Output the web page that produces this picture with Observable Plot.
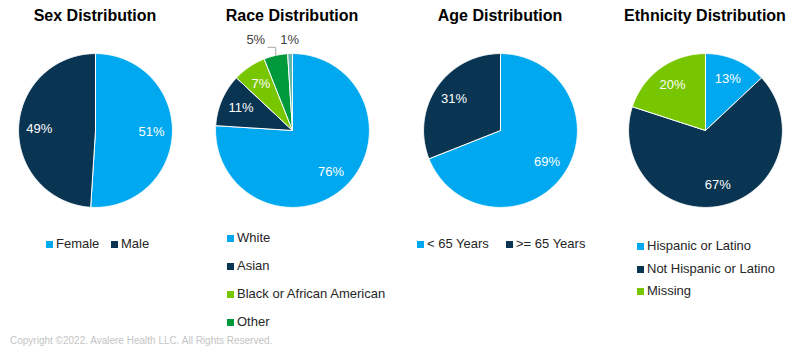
<!DOCTYPE html>
<html><head><meta charset="utf-8">
<script src="https://cdn.jsdelivr.net/npm/d3@7"></script>
<script src="https://cdn.jsdelivr.net/npm/@observablehq/plot@0.6"></script>
<style>
body{margin:0;background:#fff;font-family:"Liberation Sans",Arial,sans-serif;}
#root{position:relative;width:802px;height:360px;overflow:hidden;background:#fff;}
.title{position:absolute;top:7px;width:200px;text-align:center;font-weight:bold;font-size:16px;line-height:18px;color:#000;}
.pie{position:absolute;top:20px;}
.leg{position:absolute;font-size:13px;line-height:16px;color:#262626;white-space:nowrap;display:flex;align-items:center;}
.sw{display:inline-block;width:7px;height:7px;margin-right:3px;}
.copy{position:absolute;left:10px;top:335px;font-size:10px;color:#c4c4c4;white-space:nowrap;}
</style></head><body><div id="root"></div>
<script>
// ---- data ----
const titles = ["Sex Distribution", "Race Distribution", "Age Distribution", "Ethnicity Distribution"];

const sexCategories = ["Female", "Male"];
const sexValues = [51, 49];

const raceCategories = ["White", "Asian", "Black or African American", "Other", "Unreported"];
const raceValues = [76, 11, 7, 5, 1];
const raceLegend = ["White", "Asian", "Black or African American", "Other"];

const ageCategories = ["< 65 Years", ">= 65 Years"];
const ageValues = [69, 31];

const ethCategories = ["Hispanic or Latino", "Not Hispanic or Latino", "Missing"];
const ethValues = [13, 67, 20];

const copyright = "Copyright \u00a92022. Avalere Health LLC. All Rights Reserved.";

// ---- styles ----
const BLUE = "#00a8ef", NAVY = "#0a3552", GREEN = "#78c600", DGREEN = "#00993c", TEAL = "#62b5ab";
const root = document.getElementById("root");

function makePie(cats, vals, colors, cx) {
  const arcs = d3.pie().sort(null).value(d => d)(vals);
  const pts = [];
  arcs.forEach((a, i) => {
    const n = Math.max(2, Math.ceil((a.endAngle - a.startAngle) / 0.01));
    pts.push({cat: cats[i], x: 0, y: 0});
    for (let k = 0; k <= n; k++) {
      const t = a.startAngle + (a.endAngle - a.startAngle) * k / n;
      pts.push({cat: cats[i], x: Math.sin(t), y: Math.cos(t)});
    }
    pts.push({cat: cats[i], x: 0, y: 0});
  });
  const inside = [], outside = [], leaders = [];
  arcs.forEach((a, i) => {
    const m = (a.startAngle + a.endAngle) / 2;
    if (vals[i] >= 6) inside.push({x: Math.sin(m) * 0.73, y: Math.cos(m) * 0.73, text: vals[i] + "%"});
    else outside.push({i, m, text: vals[i] + "%"});
  });
  const outLabels = outside.map((o, j) => {
    const shifted = j < outside.length - 1;
    const lx = Math.sin(o.m) * 1.18 - (shifted ? 0.22 : 0);
    const ly = Math.cos(o.m) * 1.18 + (shifted ? 0.03 : 0);
    if (shifted) {
      const ex = Math.sin(o.m), ey = Math.cos(o.m);
      leaders.push({id: o.i, x: ex, y: ey});
      leaders.push({id: o.i, x: ex, y: ly - 0.1});
      leaders.push({id: o.i, x: lx + 0.16, y: ly - 0.1});
    }
    return {x: lx, y: ly, text: o.text};
  });
  const svg = Plot.plot({
    width: 180, height: 200, margin: 0,
    x: {domain: [-1.17, 1.17], axis: null},
    y: {domain: [-1.17, 1.43], axis: null},
    color: {domain: cats, range: colors},
    style: {fontFamily: "Liberation Sans, Arial, sans-serif", fontSize: "13px", background: "transparent", overflow: "visible"},
    marks: [
      Plot.line(pts, {x: "x", y: "y", z: "cat", fill: "cat", stroke: "white", strokeWidth: 1, strokeLinejoin: "round"}),
      Plot.line(leaders, {x: "x", y: "y", z: "id", stroke: "#a6a6a6", strokeWidth: 1}),
      Plot.text(inside, {x: "x", y: "y", text: "text", fill: "white", fontSize: 13}),
      Plot.text(outLabels, {x: "x", y: "y", text: "text", fill: "#404040", fontSize: 13})
    ]
  });
  svg.classList.add("pie");
  svg.style.left = (cx - 90) + "px";
  root.appendChild(svg);
}

function title(txt, cx) {
  const d = document.createElement("div");
  d.className = "title"; d.textContent = txt; d.style.left = (cx - 100) + "px";
  root.appendChild(d);
}
function legend(items, colors, positions) {
  items.forEach((t, i) => {
    const d = document.createElement("div");
    d.className = "leg";
    d.style.left = positions[i][0] + "px";
    d.style.top = (positions[i][1] - 8) + "px";
    const s = document.createElement("span");
    s.className = "sw"; s.style.background = colors[i];
    d.appendChild(s);
    d.appendChild(document.createTextNode(t));
    root.appendChild(d);
  });
}

const centers = [95, 292, 500, 705];
titles.forEach((t, i) => title(t, centers[i]));

makePie(sexCategories, sexValues, [BLUE, NAVY], centers[0]);
makePie(raceCategories, raceValues, [BLUE, NAVY, GREEN, DGREEN, TEAL], centers[1]);
makePie(ageCategories, ageValues, [BLUE, NAVY], centers[2]);
makePie(ethCategories, ethValues, [BLUE, NAVY, GREEN], centers[3]);

legend(sexCategories, [BLUE, NAVY], [[46, 244], [111, 244]]);
legend(raceLegend, [BLUE, NAVY, GREEN, DGREEN], [[227, 238], [227, 266], [227, 294], [227, 322]]);
legend(ageCategories, [BLUE, NAVY], [[417, 244], [506, 244]]);
legend(ethCategories, [BLUE, NAVY, GREEN], [[637, 246], [637, 269], [637, 291]]);

const c = document.createElement("div");
c.className = "copy"; c.textContent = copyright;
root.appendChild(c);
</script>
</body></html>
